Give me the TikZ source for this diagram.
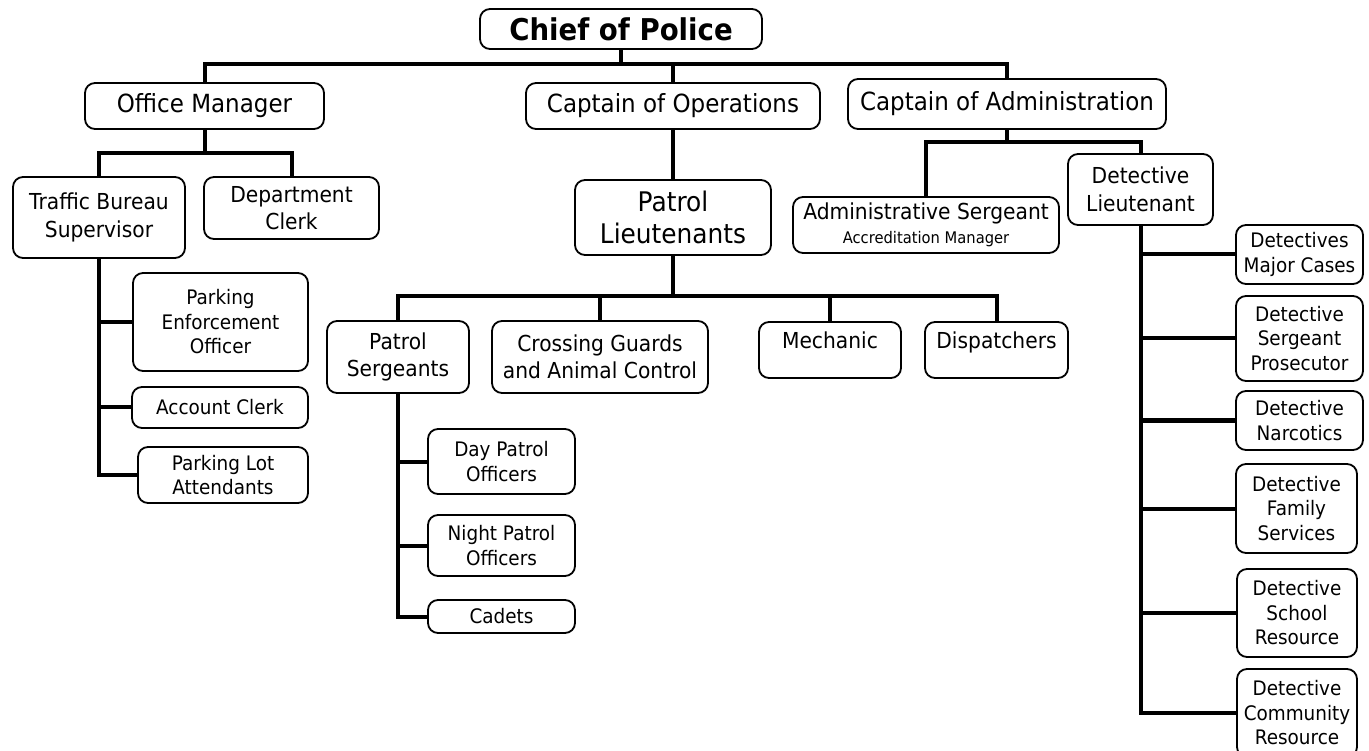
\documentclass[tikz,border=0pt]{standalone}
\usepackage{fontspec}
\setmainfont{DejaVu Sans}[FakeStretch=0.92]
\begin{document}
\begin{tikzpicture}[x=1pt,y=-1pt,
  box/.style={draw, fill=white, line width=1.8pt, rounded corners=10pt, inner sep=0pt, align=center},
  conn/.style={line width=4pt},
  fchief/.style={font=\fontsize{30}{35}\selectfont\bfseries},
  fa/.style={font=\fontsize{25}{31}\selectfont},
  fpl/.style={font=\fontsize{27}{32}\selectfont},
  fb/.style={font=\fontsize{22}{27.5}\selectfont},
  fc/.style={font=\fontsize{20}{24.5}\selectfont},
  ]
\useasboundingbox (0,0) rectangle (1369,751);
\clip (0,0) rectangle (1369,751);
\fill[white] (0,0) rectangle (1369,751);

% top of the chain of command
\node[box, fchief, minimum width=282pt, minimum height=40pt] (chief) at (621,29) {Chief of Police};
\node[box, fa, minimum width=239pt, minimum height=46pt] (om) at (204.5,106) {Office Manager};
\node[box, fa, minimum width=294pt, minimum height=46pt] (capops) at (673,106) {Captain of Operations};
\node[box, fa, minimum width=318pt, minimum height=50pt] (capadm) at (1007,104) {Captain of Administration};

% office manager branch
\node[box, fb, minimum width=172pt, minimum height=81pt] (tbs) at (99,217.5) {Traffic Bureau\\Supervisor};
\node[box, fb, minimum width=175pt, minimum height=62pt] (dc) at (291.5,208) {Department\\Clerk};
\node[box, fc, minimum width=175pt, minimum height=98pt] (peo) at (220.5,322) {Parking\\Enforcement\\Officer};
\node[box, fc, minimum width=176pt, minimum height=41pt] (acct) at (220,407.5) {Account Clerk};
\node[box, fc, minimum width=170pt, minimum height=56pt] (pla) at (223,475) {Parking Lot\\Attendants};

% operations branch
\node[box, fpl, minimum width=196pt, minimum height=75pt] (plt) at (673,217.5) {Patrol\\Lieutenants};
\node[box, fb, minimum width=142pt, minimum height=72pt] (psg) at (398,357) {Patrol\\Sergeants};
\node[box, fb, minimum width=216pt, minimum height=72pt] (cgac) at (600,357) {Crossing Guards\\and Animal Control};
\node[box, fb, minimum width=142pt, minimum height=56pt] (mech) at (830,350) {Mechanic\\[-8pt]\mbox{}};
\node[box, fb, minimum width=143pt, minimum height=56pt] (disp) at (996.5,350) {Dispatchers\\[-8pt]\mbox{}};
\node[box, fc, minimum width=147pt, minimum height=65pt] (dpo) at (501.5,461.5) {Day Patrol\\Officers};
\node[box, fc, minimum width=147pt, minimum height=61pt] (npo) at (501.5,545.5) {Night Patrol\\Officers};
\node[box, fc, minimum width=147pt, minimum height=33pt] (cadets) at (501.5,616.5) {Cadets};

% administration branch
\node[box, fb, minimum width=266pt, minimum height=56pt] (adms) at (926,225)
  {Administrative Sergeant\\[-3pt]{\fontsize{16}{19}\selectfont Accreditation Manager}};
\node[box, fb, minimum width=145pt, minimum height=71pt] (detlt) at (1140.5,189.5) {Detective\\Lieutenant};
\node[box, fc, minimum width=127pt, minimum height=59pt] (dmc) at (1299.5,254.5) {Detectives\\Major Cases};
\node[box, fc, minimum width=127pt, minimum height=85pt] (dsp) at (1299.5,338.5) {Detective\\Sergeant\\Prosecutor};
\node[box, fc, minimum width=127pt, minimum height=59pt] (dn) at (1299.5,420.5) {Detective\\Narcotics};
\node[box, fc, minimum width=121pt, minimum height=89pt] (dfs) at (1296.5,508.5) {Detective\\Family\\Services};
\node[box, fc, minimum width=120pt, minimum height=88pt] (dsr) at (1297,613) {Detective\\School\\Resource};
\node[box, fc, minimum width=120pt, minimum height=88pt] (dcr) at (1297,713) {Detective\\Community\\Resource};

% bus levels
\coordinate (b0) at (0,64);
\coordinate (b1) at (0,153);
\coordinate (b2) at (0,142);
\coordinate (b3) at (0,296);

% chief to captains and office manager
\draw[conn] (chief.south) -- (chief.south |- b0);
\draw[conn] (om.north) |- (capadm.north |- b0) -- (capadm.north);
\draw[conn] (capops.north) -- (capops.north |- b0);

% office manager
\draw[conn] (om.south) -- (om.south |- b1);
\draw[conn] (tbs.north) |- (dc.north |- b1) -- (dc.north);
\draw[conn] (tbs.south) |- (pla.west);
\draw[conn] (tbs.south |- peo.west) -- (peo.west);
\draw[conn] (tbs.south |- acct.west) -- (acct.west);

% operations
\draw[conn] (capops.south) -- (plt.north);
\draw[conn] (plt.south) -- (plt.south |- b3);
\draw[conn] (psg.north) |- (disp.north |- b3) -- (disp.north);
\draw[conn] (cgac.north) -- (cgac.north |- b3);
\draw[conn] (mech.north) -- (mech.north |- b3);
\draw[conn] (psg.south) |- (cadets.west);
\draw[conn] (psg.south |- dpo.west) -- (dpo.west);
\draw[conn] (psg.south |- npo.west) -- (npo.west);

% administration
\draw[conn] (capadm.south) -- (capadm.south |- b2);
\draw[conn] (adms.north) |- (detlt.north |- b2) -- (detlt.north);
\draw[conn] (detlt.south) |- (dcr.west);
\draw[conn] (detlt.south |- dmc.west) -- (dmc.west);
\draw[conn] (detlt.south |- dsp.west) -- (dsp.west);
\draw[conn] (detlt.south |- dn.west) -- (dn.west);
\draw[conn] (detlt.south |- dfs.west) -- (dfs.west);
\draw[conn] (detlt.south |- dsr.west) -- (dsr.west);
\end{tikzpicture}
\end{document}
